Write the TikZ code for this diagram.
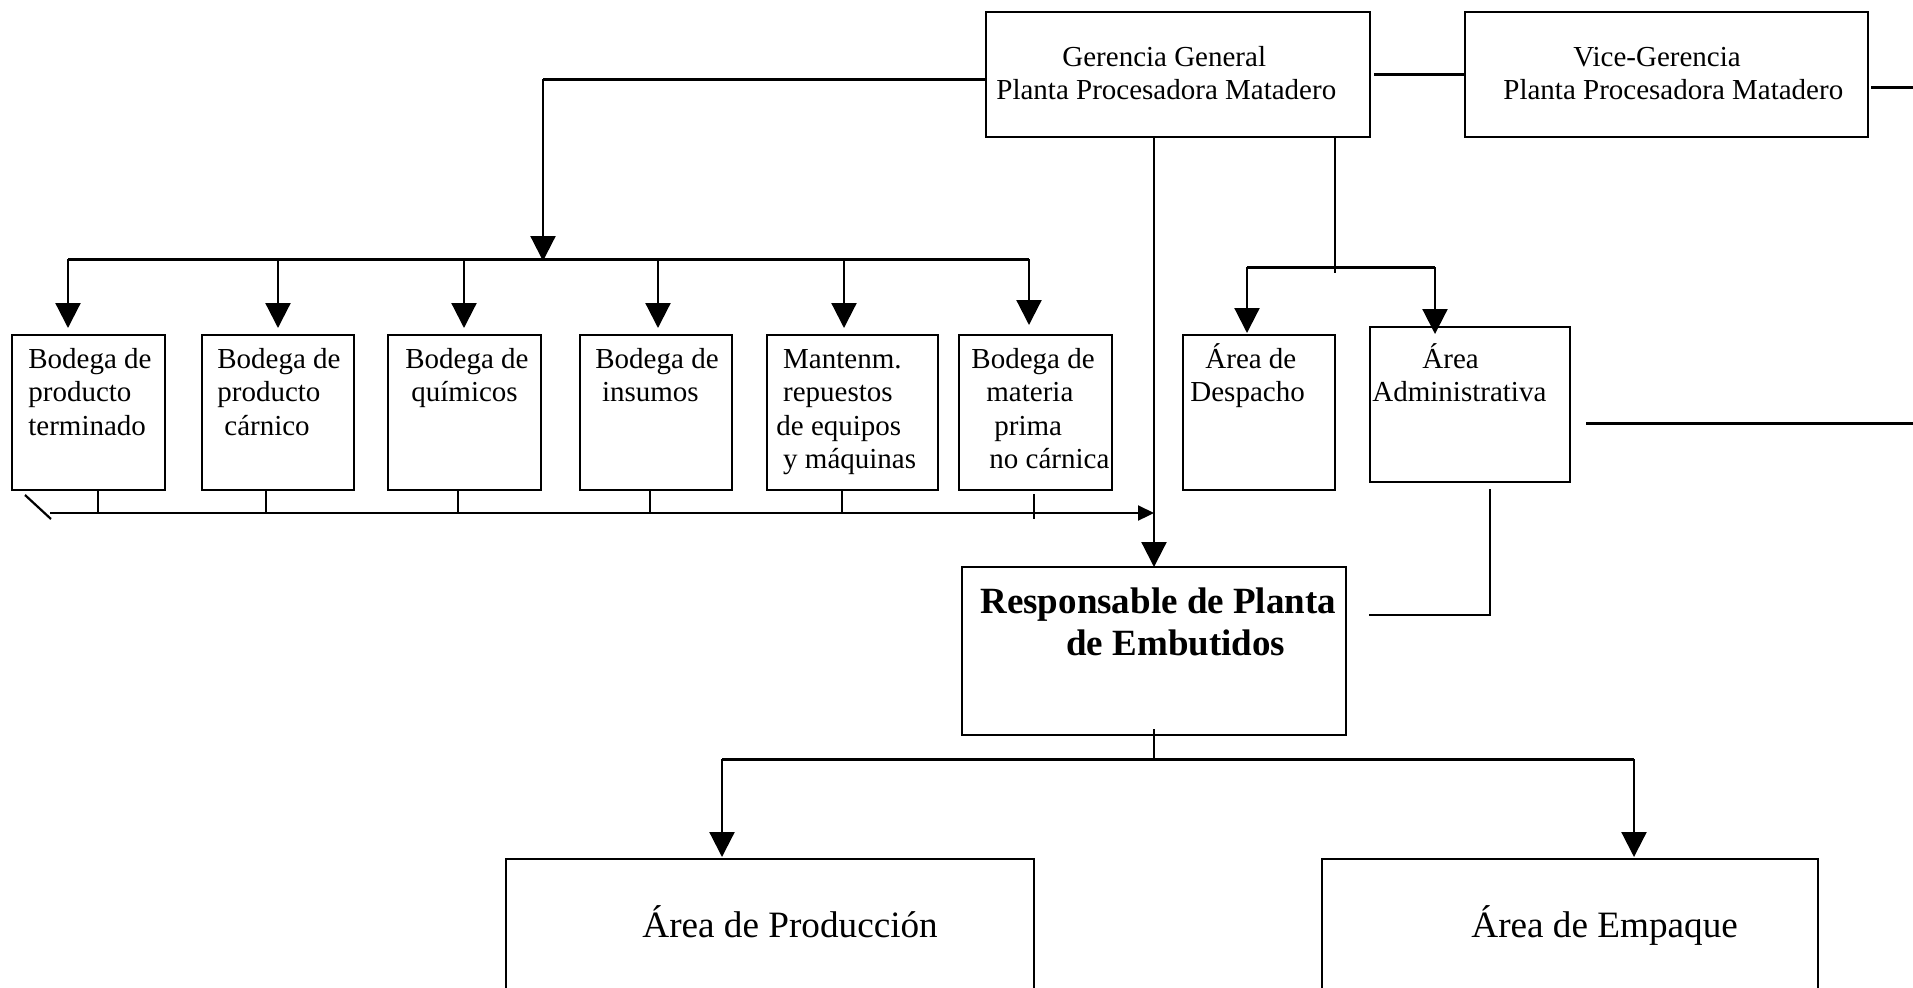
\documentclass[tikz,border=0pt]{standalone}
\usepackage{fontspec}
\setmainfont{Liberation Serif}
\usetikzlibrary{arrows.meta}
% box from corner (x1,y1) to (x2,y2), in pixel units
\newcommand\orgbox[5]{\node[orgbx,minimum width={(#4-#2)*0.5pt},minimum height={(#5-#3)*0.5pt}] (#1) at ({(#2+#4)/2},{(#3+#5)/2}) {};}
\newcommand\fl{\rule{0pt}{14pt}}
\newcommand\flb{\rule{0pt}{17pt}}
\begin{document}
\begin{tikzpicture}[x=0.5pt,y=-0.5pt,
  orgbx/.style={draw,line width=1.2pt,inner sep=0pt,outer sep=0pt},
  lbl/.style={inner sep=0pt,anchor=north west,align=left,font=\fontsize{14.5}{16.75}\selectfont},
  bigl/.style={inner sep=0pt,anchor=base west,font=\fontsize{18.6}{22}\selectfont},
  conn/.style={line width=1.1pt},
  bus/.style={line width=1.5pt},
  arrbig/.style={line width=1.1pt,-{Triangle[length=12.5pt,width=12.5pt]}},
  arrsmall/.style={line width=1.1pt,-{Triangle[length=8pt,width=7.5pt]}}]
\useasboundingbox (0,0) rectangle (1913,987);
\clip (0,0) rectangle (1913,987);

% boxes
\orgbox{ger}{986}{12}{1370}{137}
\orgbox{vice}{1465}{12}{1868}{137}
\orgbox{b1}{12}{335}{165}{490}
\orgbox{b2}{202}{335}{354}{490}
\orgbox{b3}{388}{335}{541}{490}
\orgbox{b4}{580}{335}{732}{490}
\orgbox{b5}{767}{335}{938}{490}
\orgbox{b6}{959}{335}{1112}{490}
\orgbox{desp}{1183}{335}{1335}{490}
\orgbox{admin}{1370}{327}{1570}{482}
\orgbox{resp}{962}{567}{1346}{735}
\orgbox{prod}{506}{859}{1034}{1010}
\orgbox{emp}{1322}{859}{1818}{1010}

% texts
\node[lbl] (gert) at (996,38) {\fl\hspace*{33pt}Gerencia General\\Planta Procesadora Matadero};
\node[lbl] (vicet) at (1503,38) {\fl\hspace*{35pt}Vice-Gerencia\\Planta Procesadora Matadero};
\node[lbl] (b1t) at (28,340) {\fl Bodega de\\producto\\terminado};
\node[lbl] (b2t) at (217,340) {\fl Bodega de\\producto\\\hspace*{3.5pt}cárnico};
\node[lbl] (b3t) at (405,340) {\fl Bodega de\\\hspace*{3pt}químicos};
\node[lbl] (b4t) at (595,340) {\fl Bodega de\\\hspace*{3.3pt}insumos};
\node[lbl] (b5t) at (776,340) {\fl\hspace*{3.4pt}Mantenm.\\\hspace*{3.4pt}repuestos\\de equipos\\\hspace*{3.4pt}y máquinas};
\node[lbl] (b6t) at (971,340) {\fl Bodega de\\\hspace*{7.5pt}materia\\\hspace*{11.5pt}prima\\\hspace*{9pt}no cárnica};
\node[lbl] (despt) at (1190,340) {\fl\hspace*{7.5pt}Área de\\Despacho};
\node[lbl] (admint) at (1372,340) {\fl\hspace*{25pt}Área\\Administrativa};
\node[lbl,font=\bfseries\fontsize{18.5}{21}\selectfont] (respt) at (980,579) {\flb Responsable de Planta\\\hspace*{43pt}de Embutidos};
\node[bigl] (prodt) at (642,937) {Área de Producción};
\node[bigl] (empt) at (1471,937) {Área de Empaque};

% Gerencia General to the warehouses
\coordinate (gl) at (543,79);
\coordinate (busA) at (543,261);
\draw[bus] (ger.west |- gl) -- (gl);
\draw[arrbig] (gl) -- (busA);
\coordinate (t1) at (68,259);
\coordinate (t2) at (278,259);
\coordinate (t3) at (464,259);
\coordinate (t4) at (658,259);
\coordinate (t5) at (844,259);
\coordinate (t6) at (1029,259);
\draw[bus] (t1) -- (t6);
\draw[arrbig,shorten >=3.5pt] (t1) -- (t1 |- b1.north);
\draw[arrbig,shorten >=3.5pt] (t2) -- (t2 |- b2.north);
\draw[arrbig,shorten >=3.5pt] (t3) -- (t3 |- b3.north);
\draw[arrbig,shorten >=3.5pt] (t4) -- (t4 |- b4.north);
\draw[arrbig,shorten >=3.5pt] (t5) -- (t5 |- b5.north);
\draw[arrbig,shorten >=5pt] (t6) -- (t6 |- b6.north);

% warehouses to Responsable de Planta
\coordinate (u0) at (50,513);
\draw[arrsmall] (u0) -- (u0 -| resp.north);
\draw[conn] (98,0 |- b1.south) -- (98,0 |- u0);
\draw[conn] (266,0 |- b2.south) -- (266,0 |- u0);
\draw[conn] (458,0 |- b3.south) -- (458,0 |- u0);
\draw[conn] (650,0 |- b4.south) -- (650,0 |- u0);
\draw[conn] (842,0 |- b5.south) -- (842,0 |- u0);
\draw[conn] (1034,494) -- (1034,519);
\draw[conn] (25,495) -- (51,519);

% Gerencia General to Responsable de Planta
\draw[arrbig] (resp.north |- ger.south) -- (resp.north);

% Gerencia General to Despacho and Administrativa
\coordinate (r0) at (1335,273);
\coordinate (rL) at (1247,267);
\coordinate (rR) at (1435,267);
\draw[conn] (r0 |- ger.south) -- (r0);
\draw[bus] (rL) -- (rR);
\draw[arrbig,shorten >=1pt] (rL) -- (rL |- desp.north);
\draw[arrbig,shorten >=-3.5pt] (rR) -- (rR |- admin.north);

% Gerencia General and Vice-Gerencia
\draw[bus,shorten <=2pt] (ger.east) -- (vice.west);
\coordinate (vr) at (1913,87);
\draw[bus,shorten <=1.5pt] (vice.east |- vr) -- (vr);

% Administrativa links
\coordinate (ar) at (1913,423);
\draw[bus,shorten <=8pt] (admin.east |- ar) -- (ar);
\coordinate (ad) at (1490,615);
\draw[conn,shorten <=3.5pt,shorten >=11.5pt] (ad |- admin.south) -- (ad) -- (resp.east |- ad);

% Responsable de Planta to the areas
\draw[conn] ([yshift=3pt]resp.south) -- ++(0,29);
\coordinate (pL) at (722,759);
\coordinate (pR) at (1634,759);
\draw[bus] (pL) -- (pR);
\draw[arrbig,shorten >=1pt] (pL) -- (pL |- prod.north);
\draw[arrbig,shorten >=1pt] (pR) -- (pR |- emp.north);
\end{tikzpicture}
\end{document}
